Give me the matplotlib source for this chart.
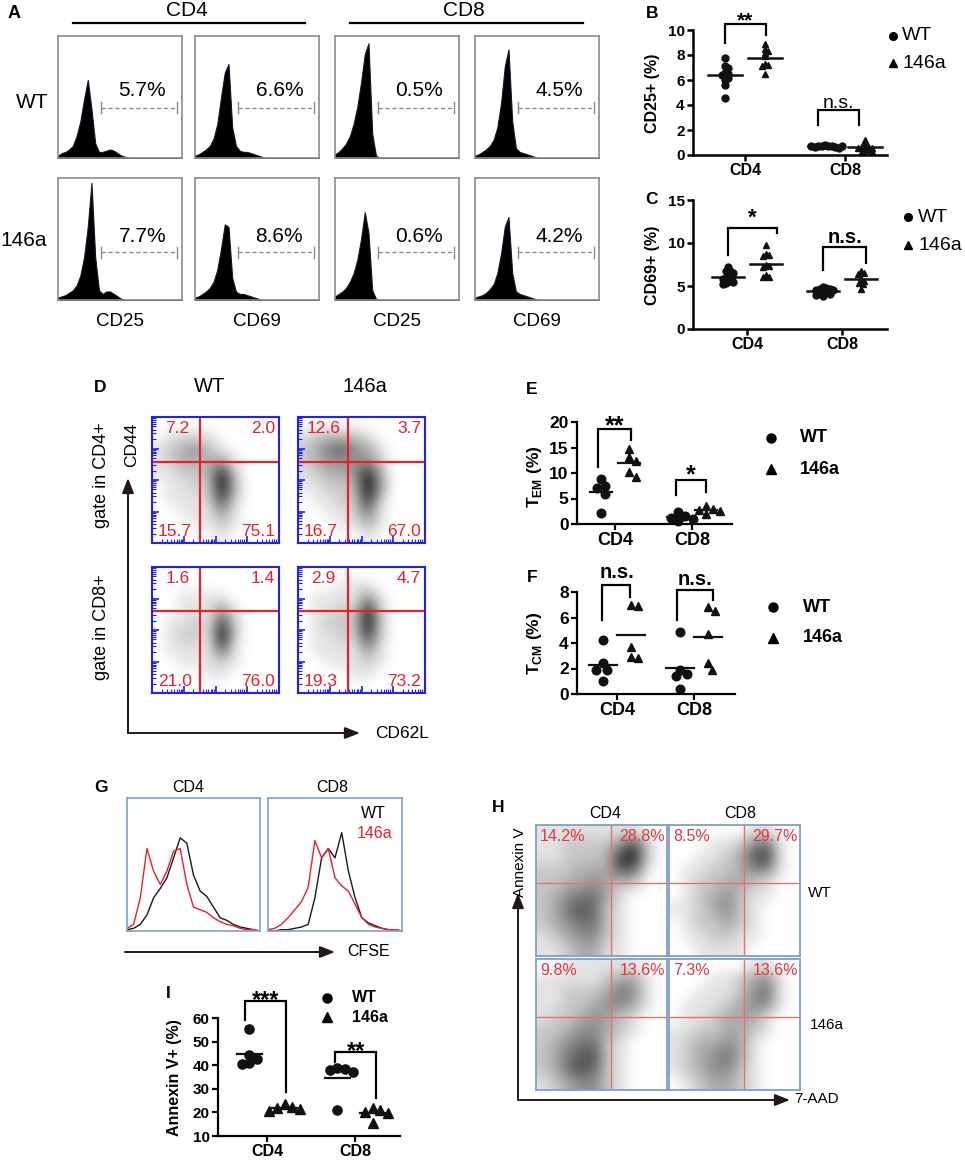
import numpy as np
import matplotlib
matplotlib.use("Agg")
import matplotlib.pyplot as plt
from matplotlib.colors import LinearSegmentedColormap

plt.rcParams["font.family"] = ["Liberation Sans", "DejaVu Sans"]
plt.rcParams["mathtext.fontset"] = "custom"
plt.rcParams["mathtext.rm"] = "Liberation Sans"
plt.rcParams["mathtext.bf"] = "Liberation Sans:bold"

W, H = 965, 1160

groups = ["CD4", "CD8"]

# ---- A: CD25 / CD69 histograms, height as fraction of the box
a_markers = ["CD25", "CD69", "CD25", "CD69"]
pct_wt = ["5.7%", "6.6%", "0.5%", "4.5%"]
pct_146a = ["7.7%", "8.6%", "0.6%", "4.2%"]
hist_x = [0, 3, 6, 9, 12, 15, 18, 21, 24, 27, 30, 33, 36, 39, 42, 45, 48, 51, 54, 57, 60, 100]
hist_wt = [
    [.02, .04, .05, .07, .10, .18, .30, .48, .64, .40, .12, .05, .05, .06, .07, .06, .04, .02, .01, 0, 0, 0],
    [.02, .03, .05, .07, .10, .16, .28, .50, .70, .77, .25, .10, .06, .05, .05, .04, .03, .02, .01, 0, 0, 0],
    [.03, .05, .08, .12, .18, .28, .42, .62, .85, .94, .20, .02, 0, 0, 0, 0, 0, 0, 0, 0, 0, 0],
    [.02, .03, .05, .07, .10, .15, .25, .45, .75, .89, .30, .08, .05, .04, .03, .02, .01, 0, 0, 0, 0, 0],
]
hist_146a = [
    [.02, .03, .04, .06, .08, .12, .20, .35, .60, .96, .35, .08, .05, .07, .07, .05, .03, .01, 0, 0, 0, 0],
    [.02, .03, .05, .07, .10, .15, .25, .42, .62, .60, .18, .07, .05, .05, .04, .03, .02, .01, 0, 0, 0, 0],
    [.03, .05, .07, .10, .15, .22, .33, .50, .72, .55, .08, .01, 0, 0, 0, 0, 0, 0, 0, 0, 0, 0],
    [.02, .03, .04, .06, .09, .13, .22, .38, .60, .68, .22, .07, .05, .04, .03, .02, .01, 0, 0, 0, 0, 0],
]

# ---- B, C: CD25+ and CD69+ (%)
b_wt = [[7.8, 7.1, 7.0, 6.6, 6.5, 6.4, 6.3, 6.2, 6.0, 5.6, 4.6],
        [0.8, 0.75, 0.7, 0.7, 0.7, 0.65, 0.65, 0.6, 0.7, 0.75]]
b_146a = [[8.9, 8.5, 8.3, 8.2, 7.9, 7.3, 7.2, 7.1, 6.5],
          [1.2, 0.8, 0.7, 0.7, 0.6, 0.6, 0.5, 0.4, 0.3, 0.3]]
c_wt = [[7.2, 6.8, 6.7, 6.5, 6.3, 6.0, 5.9, 5.8, 5.6, 5.5, 5.3, 5.2],
        [4.9, 4.8, 4.7, 4.6, 4.5, 4.5, 4.4, 4.3, 4.2, 4.1, 4.0, 3.8]]
c_146a = [[9.8, 8.7, 8.6, 8.5, 7.5, 7.3, 7.2, 6.3, 6.1, 6.0],
          [6.7, 6.5, 6.4, 5.8, 5.6, 5.4, 5.2, 4.6]]

# ---- D: CD44 / CD62L quadrant percentages (UL, UR, LL, LR) and dot density
d_quads = [[7.2, 2.0, 15.7, 75.1], [12.6, 3.7, 16.7, 67.0],
           [1.6, 1.4, 21.0, 76.0], [2.9, 4.7, 19.3, 73.2]]
d_density = [
    ["0000000000", "0111100000", "1234210000", "1233331000", "1122382000",
     "0112293000", "0111272000", "0011141000", "0001121000", "0000010000"],
    ["0000000000", "1222210000", "2356431000", "2344442000", "1233483000",
     "1122394000", "0112282000", "0011251000", "0001131000", "0000010000"],
    ["0000000000", "0000000000", "0011110000", "0011141000", "0112172000",
     "0122192000", "0111161000", "0011121000", "0000110000", "0000000000"],
    ["0000000000", "0001110000", "0111141000", "0112282000", "0122292000",
     "0112272000", "0111141000", "0011121000", "0000110000", "0000000000"],
]

# ---- E, F: effector / central memory (%)
e_wt = [[8.8, 7.4, 7.0, 5.8, 2.2], [2.4, 1.6, 1.2, 1.0, 0.5]]
e_146a = [[14.7, 13.1, 12.4, 10.1, 9.3], [3.6, 3.0, 2.8, 2.6, 2.0]]
f_wt = [[4.2, 2.4, 1.9, 1.9, 1.0], [4.9, 1.9, 1.6, 1.4, 0.4]]
f_146a = [[7.0, 6.9, 3.7, 2.9, 2.8], [6.8, 6.5, 4.7, 2.4, 1.9]]

# ---- G: CFSE dilution histograms
g_x = [0, 5, 10, 15, 20, 25, 30, 35, 40, 45, 50, 55, 60, 65, 70, 75, 80, 85, 90, 95, 100]
g_cd4_wt = [.01, .02, .05, .12, .25, .32, .40, .55, .70, .66, .42, .30, .26, .18, .10, .08, .05, .03, .02, .01, 0]
g_cd4_146a = [.02, .05, .25, .62, .45, .35, .45, .60, .62, .35, .18, .16, .14, .10, .07, .05, .04, .02, .01, .01, 0]
g_cd8_wt = [0, 0, .01, .01, .02, .03, .05, .25, .55, .62, .55, .74, .45, .25, .10, .06, .04, .02, .01, .01, 0]
g_cd8_146a = [.01, .02, .05, .10, .16, .22, .33, .68, .55, .62, .40, .34, .30, .20, .10, .05, .03, .02, .01, .01, 0]

# ---- H: Annexin V / 7-AAD (UL, UR) and dot density
h_quads = [["14.2%", "28.8%"], ["8.5%", "29.7%"], ["9.8%", "13.6%"], ["7.3%", "13.6%"]]
h_density = [
    ["1111111100", "1122224620", "1122237820", "2223336510", "2233432200",
     "2345531000", "2356521000", "2345521000", "1234421000", "1123311000"],
    ["0000001100", "0001124510", "0011236710", "0112234410", "0122332100",
     "0123421100", "1123421000", "0122321000", "0112211000", "0011110000"],
    ["0011111100", "1111123310", "1122235410", "1122344310", "1223432100",
     "2234432100", "2345521000", "2356621000", "2356521000", "1234421000"],
    ["0000001100", "0001123410", "0011124510", "0111234410", "0112333100",
     "1122332100", "1233431000", "1234531000", "1234421000", "0123321000"],
]

# ---- I: Annexin V+ (%)
i_wt = [[55.3, 44.5, 42.5, 41.0, 40.5], [38.8, 38.5, 38.0, 37.0, 21.0]]
i_146a = [[23.5, 22.5, 22.0, 21.5, 20.5], [21.8, 21.0, 20.0, 19.8, 15.5]]


fig = plt.figure(figsize=(W / 100, H / 100), dpi=100)


def box(x0, y0, x1, y1):
    # pixel box, origin top-left
    return fig.add_axes([x0 / W, 1 - y1 / H, (x1 - x0) / W, (y1 - y0) / H])


ov = box(0, 0, W, H)
ov.set_xlim(0, W)
ov.set_ylim(H, 0)
ov.axis("off")
ov.set_zorder(10)


def T(x, y, s, **kw):
    kw.setdefault("ha", "center")
    kw.setdefault("va", "center")
    ov.text(x, y, s, **kw)


def stars(x, y, s, fs):
    # asterisks sit high in the em box, so anchor on the baseline
    ov.text(x, y + fs * 1.389 * 0.55, s, ha="center", va="baseline", fontsize=fs, fontweight="bold")


def bracket(xl, xr, yt, ybl, ybr, lw=1.6):
    ov.plot([xl, xl, xr, xr], [ybl, yt, yt, ybr], color="k", lw=lw, solid_joinstyle="miter")


def arrow(x0, y0, x1, y1):
    ov.annotate("", xy=(x1, y1), xytext=(x0, y0),
                arrowprops=dict(arrowstyle="-|>,head_length=0.9,head_width=0.35",
                                color="#231815", lw=1.4, shrinkA=0, shrinkB=0))


def legend(x, y1, y2, xt, fs, bold, ms):
    ov.plot(x, y1, "o", color="k", ms=ms)
    ov.plot(x, y2, "^", color="k", ms=ms)
    w = "bold" if bold else "normal"
    T(xt, y1, "WT", ha="left", fontsize=fs, fontweight=w)
    T(xt, y2, "146a", ha="left", fontsize=fs, fontweight=w)


def swarm(ax, xc, vals, ms, pack):
    d = ms * fig.dpi / 72 * pack
    tr = ax.transData
    inv = tr.inverted()
    placed, xs = [], []
    for v in vals:
        px, py = tr.transform((xc, v))
        for k in range(400):
            off = (k + 1) // 2 * 0.5 * d * (1 if k % 2 else -1)
            if all((px + off - qx) ** 2 + (py - qy) ** 2 >= d * d for qx, qy in placed):
                break
        placed.append((px + off, py))
        xs.append(inv.transform((px + off, py))[0])
    return xs


def dot_panel(px, ticks_px, ylim, yticks, wt, mut, ms, half, yfs, xfs, lw, pack, off=0.2):
    x0, y0, x1, y1 = px
    t1, t2 = ticks_px
    ax = box(x0, y0, x1, y1)
    ax.set_facecolor("none")
    ax.set_xlim(1 + (x0 - t1) / (t2 - t1), 1 + (x1 - t1) / (t2 - t1))
    ax.set_ylim(*ylim)
    for i in range(len(groups)):
        for vals, mk, o in ((wt[i], "o", -off), (mut[i], "^", off)):
            xs = swarm(ax, 1 + i + o, vals, ms, pack)
            ax.plot(xs, vals, mk, color="#111111", ms=ms, ls="none", clip_on=False)
            m = np.mean(vals)
            ax.plot([1 + i + o - half, 1 + i + o + half], [m, m], color="#111111", lw=lw, clip_on=False)
    ax.spines[["top", "right"]].set_visible(False)
    for s in ("left", "bottom"):
        ax.spines[s].set_linewidth(lw)
    ax.set_xticks([1, 2], groups)
    ax.set_yticks(yticks)
    ax.tick_params(length=4, width=lw, pad=2)
    for lab in ax.get_yticklabels():
        lab.set_fontweight("bold")
        lab.set_fontsize(yfs)
    for lab in ax.get_xticklabels():
        lab.set_fontweight("bold")
        lab.set_fontsize(xfs)
    return ax


flow_cmap = LinearSegmentedColormap.from_list("flow", ["#ffffff", "#000000"])


def grid(rows):
    return np.array([[int(ch) for ch in r] for r in rows], dtype=float)


# ================= A =================
T(14, 13, "A", fontsize=13, fontweight="bold")
T(187, 11, "CD4", fontsize=15)
T(464, 11, "CD8", fontsize=15)
ov.plot([73, 305], [23, 23], color="k", lw=1.6)
ov.plot([350, 583], [23, 23], color="k", lw=1.6)
T(32, 103, "WT", fontsize=15)
T(24, 240, "146a", fontsize=15)
a_cols = [58, 195, 335, 475]
a_rows = [36, 178]
for r, (hrow, prow) in enumerate(zip([hist_wt, hist_146a], [pct_wt, pct_146a])):
    for c in range(4):
        ax = box(a_cols[c], a_rows[r], a_cols[c] + 124, a_rows[r] + 122)
        ax.fill_between(hist_x, hrow[c], color="black", lw=0.8, edgecolor="#15152a")
        ax.set_xlim(0, 100)
        ax.set_ylim(0, 1)
        ax.set_xticks([])
        ax.set_yticks([])
        for s in ax.spines.values():
            s.set_color("#8c8c8c")
            s.set_linewidth(1.2)
        yl = 0.41 if r == 0 else 0.39
        ax.plot([35, 96], [yl, yl], ls=(0, (3, 2)), color="#8c8c8c", lw=1)
        for xe in (35, 96):
            ax.plot([xe, xe], [yl - 0.045, yl + 0.045], color="#8c8c8c", lw=1)
        ax.text(68, yl + (0.147 if r == 0 else 0.13), prow[c], ha="center", va="center", fontsize=15)
for c in range(4):
    T(a_cols[c] + 62, 322, a_markers[c], fontsize=13.5)

# ================= B / C =================
T(652, 13, "B", fontsize=12.5, fontweight="bold")
dot_panel((693, 30, 887, 155), (745, 845), (0, 10), [0, 2, 4, 6, 8, 10],
          b_wt, b_146a, ms=5.0, half=0.17, yfs=11, xfs=11.5, lw=1.8, pack=0.5)
T(653, 93, "CD25+ (%)", rotation=90, fontsize=11.5, fontweight="bold")
bracket(725, 766, 24, 43, 35)
stars(745, 15, "**", 15)
bracket(818, 859, 110, 125, 125)
T(838, 108, "n.s.", va="baseline", fontsize=14)
legend(893, 36, 63, 902, 14, False, 5.5)

T(652, 200, "C", fontsize=12.5, fontweight="bold")
dot_panel((693, 200, 887, 329), (747, 842), (0, 15), [0, 5, 10, 15],
          c_wt, c_146a, ms=5.0, half=0.17, yfs=11, xfs=11.5, lw=1.8, pack=0.5)
T(653, 265, "CD69+ (%)", rotation=90, fontsize=11.5, fontweight="bold")
bracket(728, 777, 228, 255, 233)
stars(752, 211, "*", 16)
bracket(823, 866, 247, 270, 263)
T(845, 243, "n.s.", va="baseline", fontsize=14.5, fontweight="bold")
legend(908, 217, 245, 918, 14, False, 5.5)

# ================= D =================
T(100, 388, "D", fontsize=12.5, fontweight="bold")
T(210, 387, "WT", fontsize=14.5)
T(365, 387, "146a", fontsize=14.5)
d_boxes = [(152, 417), (298, 417), (152, 567), (298, 567)]
d_vline = [0.38, 0.39, 0.38, 0.39]
d_hline = [0.64, 0.64, 0.65, 0.65]
major = [0, 0.25, 0.5, 0.75, 1.0]
minor = [np.log10(k) / 4 + dec / 4 for dec in range(4) for k in range(2, 10)]
blue = "#1f1fff"
red = "#e8202a"
for k, (bx, by) in enumerate(d_boxes):
    ax = box(bx, by, bx + 127, by + 126)
    ax.imshow(grid(d_density[k]), cmap=flow_cmap, vmin=0, vmax=9.5, extent=(0, 1, 0, 1),
              aspect="auto", interpolation="bicubic")
    ax.set_xlim(0, 1)
    ax.set_ylim(0, 1)
    ax.axvline(d_vline[k], color=red, lw=1.6)
    ax.axhline(d_hline[k], color=red, lw=1.6)
    for s in ax.spines.values():
        s.set_color(blue)
        s.set_linewidth(1.5)
    ax.set_xticks(major)
    ax.set_yticks(major)
    ax.set_xticks(minor, minor=True)
    ax.set_yticks(minor, minor=True)
    ax.tick_params(which="both", direction="in", colors=blue, labelleft=False, labelbottom=False)
    ax.tick_params(which="major", length=5, width=1.2)
    ax.tick_params(which="minor", length=3, width=0.8)
    q = d_quads[k]
    ax.text(0.2, 0.91, "%.1f" % q[0], color=red, fontsize=12.5, ha="center", va="center", transform=ax.transAxes)
    ax.text(0.97, 0.91, "%.1f" % q[1], color=red, fontsize=12.5, ha="right", va="center", transform=ax.transAxes)
    ax.text(0.18, 0.09, "%.1f" % q[2], color=red, fontsize=12.5, ha="center", va="center", transform=ax.transAxes)
    ax.text(0.97, 0.09, "%.1f" % q[3], color=red, fontsize=12.5, ha="right", va="center", transform=ax.transAxes)
arrow(128, 733, 128, 478)
arrow(128, 733, 360, 733)
T(102, 475, "gate in CD4+", rotation=90, fontsize=13)
T(102, 627, "gate in CD8+", rotation=90, fontsize=13)
T(132, 445, "CD44", rotation=90, fontsize=12.5)
T(375, 733, "CD62L", ha="left", fontsize=12.5)

# ================= E / F =================
T(532, 390, "E", fontsize=12.5, fontweight="bold")
dot_panel((577, 422, 732, 524), (615, 692), (0, 20), [0, 5, 10, 15, 20],
          e_wt, e_146a, ms=6.2, half=0.14, yfs=12.5, xfs=13, lw=1.6, pack=0.85, off=0.18)
T(535, 477, r"$\mathbf{T}_{\mathbf{EM}}$" + " (%)", rotation=90, fontsize=12.5, fontweight="bold")
bracket(598, 631, 429, 467, 440)
stars(615, 420, "**", 18)
bracket(676, 706, 480, 495, 492)
stars(691, 469, "*", 18)
legend(771, 438, 469, 800, 13, True, 6.5)

T(532, 577, "F", fontsize=12.5, fontweight="bold")
dot_panel((577, 592, 735, 694), (617, 694), (0, 8), [0, 2, 4, 6, 8],
          f_wt, f_146a, ms=6.2, half=0.18, yfs=12.5, xfs=13, lw=1.6, pack=0.85, off=0.18)
T(535, 643, r"$\mathbf{T}_{\mathbf{CM}}$" + " (%)", rotation=90, fontsize=12.5, fontweight="bold")
bracket(602, 630, 585, 620, 597)
T(617, 578, "n.s.", va="baseline", fontsize=14.5, fontweight="bold")
bracket(677, 713, 590, 620, 600)
T(695, 585, "n.s.", va="baseline", fontsize=14.5, fontweight="bold")
legend(773, 607, 638, 803, 13, True, 6.5)

# ================= G =================
T(101, 788, "G", fontsize=12.5, fontweight="bold")
T(188, 788, "CD4", fontsize=11.5)
T(332, 788, "CD8", fontsize=11.5)
edge = "#7f9fcf"
for bx0, bx1, wt_line, mut_line in ((127, 260, g_cd4_wt, g_cd4_146a), (268, 402, g_cd8_wt, g_cd8_146a)):
    ax = box(bx0, 798, bx1, 931)
    ax.plot(g_x, wt_line, color="#1a1a1a", lw=1.0)
    ax.plot(g_x, mut_line, color=red, lw=1.0)
    ax.set_xlim(0, 100)
    ax.set_ylim(0, 1)
    ax.set_xticks([])
    ax.set_yticks([])
    for s in ax.spines.values():
        s.set_color(edge)
        s.set_linewidth(1.2)
T(373, 813, "WT", fontsize=11.5)
T(375, 833, "146a", fontsize=11.5, color=red)
arrow(125, 952, 335, 952)
T(347, 952, "CFSE", ha="left", fontsize=11.5)

# ================= H =================
T(498, 808, "H", fontsize=12.5, fontweight="bold")
T(605, 813, "CD4", fontsize=11.5)
T(740, 813, "CD8", fontsize=11.5)
h_boxes = [(536, 825), (669, 825), (536, 959), (669, 959)]
hred = "#e8343c"
for k, (bx, by) in enumerate(h_boxes):
    ax = box(bx, by, bx + 131, by + 131)
    ax.imshow(grid(h_density[k]), cmap=flow_cmap, vmin=0, vmax=9, extent=(0, 1, 0, 1),
              aspect="auto", interpolation="bicubic")
    ax.set_xlim(0, 1)
    ax.set_ylim(0, 1)
    ax.axvline(0.57, color="#e07272", lw=1.0)
    ax.axhline(0.56, color="#e07272", lw=1.0)
    ax.set_xticks([])
    ax.set_yticks([])
    for s in ax.spines.values():
        s.set_color(edge)
        s.set_linewidth(1.3)
    ax.text(0.03, 0.91, h_quads[k][0], color=hred, fontsize=11.5, ha="left", va="center", transform=ax.transAxes)
    ax.text(0.985, 0.91, h_quads[k][1], color=hred, fontsize=11.5, ha="right", va="center", transform=ax.transAxes)
T(820, 893, "WT", fontsize=11)
T(827, 1025, "146a", fontsize=11)
arrow(518, 1100, 518, 893)
arrow(518, 1100, 790, 1100)
T(520, 862, "Annexin V", rotation=90, fontsize=11)
T(817, 1099, "7-AAD", fontsize=11)

# ================= I =================
T(168, 993, "I", fontsize=12.5, fontweight="bold")
dot_panel((218, 1018, 400, 1136), (267, 355), (10, 60), [10, 20, 30, 40, 50, 60],
          i_wt, i_146a, ms=6.6, half=0.14, yfs=11, xfs=11.5, lw=1.6, pack=0.85)
T(175, 1078, "Annexin V+ (%)", rotation=90, fontsize=11.5, fontweight="bold")
bracket(245, 286, 1001, 1020, 1092)
stars(266, 994, "***", 17)
bracket(335, 376, 1052, 1062, 1098)
stars(356, 1045, "**", 17)
legend(327, 998, 1017, 352, 11.5, True, 6.5)

fig.savefig("out.png", dpi=100)
